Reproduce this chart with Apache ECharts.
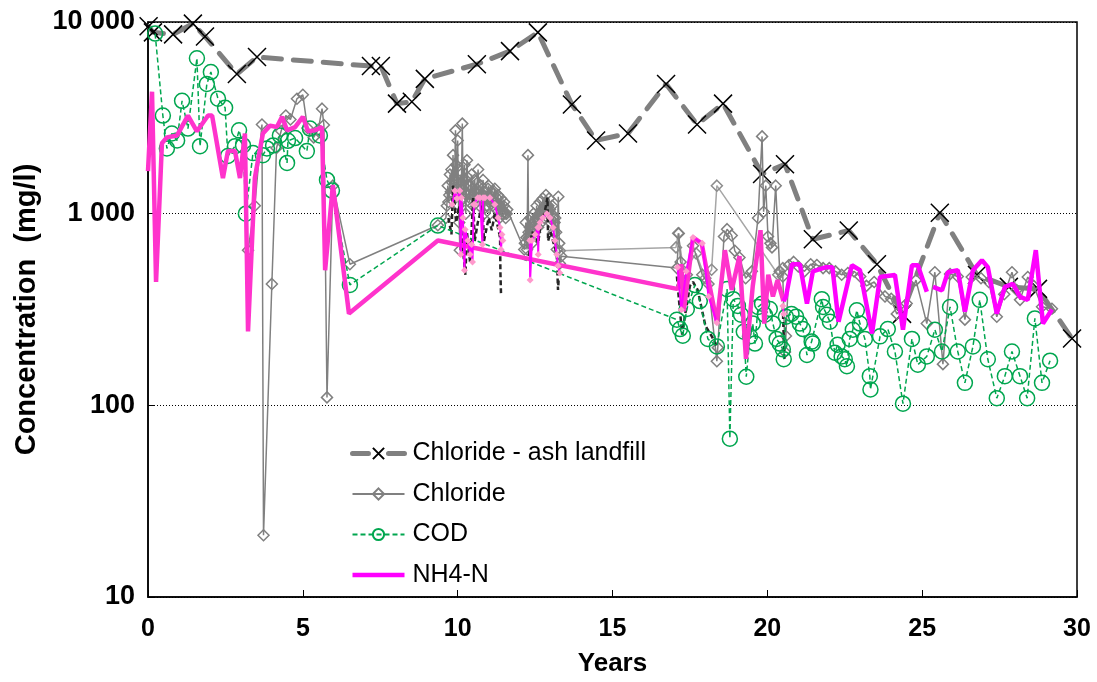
<!DOCTYPE html>
<html>
<head>
<meta charset="utf-8">
<script src="https://cdn.jsdelivr.net/npm/echarts@6/dist/echarts.min.js"></script>
<style>html,body{margin:0;padding:0;background:#fff}#c{width:1097px;height:682px}</style>
</head>
<body>
<div id="c"></div>
<script>
// ---- data: [years, mg/l] ----
const xTicks = [0, 5, 10, 15, 20, 25, 30];
const yTicks = [10, 100, 1000, 10000];

const ashLandfill = [[0.02,9500],[0.16,8830],[0.81,8620],[1.45,9810],[1.84,8410],[2.87,5350],[3.52,6560],[7.2,5890],[7.52,5890],[8.04,3750],[8.52,3840],[8.94,5050],[10.62,6020],[11.69,7050],[12.59,8830],[13.69,3710],[14.47,2410],[15.5,2620],[16.73,4750],[17.73,2920],[18.57,3750],[19.83,1610],[20.57,1810],[21.47,735],[22.63,817],[23.54,545],[24.35,300],[25.57,1010],[26.77,479],[27.8,415],[28.74,405],[29.84,223]];

const chlorideEarly = [[3.23,645],[3.45,1100],[3.68,2920],[3.73,21],[4.0,430],[4.15,2200],[4.3,2700],[4.45,3250],[4.6,3100],[4.81,3980],[5.0,4170],[5.15,2800],[5.35,2500],[5.5,2750],[5.62,3530],[5.68,2900],[5.78,110],[5.97,1400],[6.52,545],[9.36,870]];
const chlorideCluster1 = [[9.62,950],[9.65,1100],[9.68,1400],[9.7,1150],[9.73,1250],[9.75,1600],[9.78,1300],[9.8,1700],[9.83,1450],[9.85,2020],[9.88,1250],[9.9,1500],[9.93,2720],[9.95,1800],[9.96,1300],[10.0,2410],[10.02,1500],[10.03,1100],[10.05,900],[10.07,645],[10.1,1600],[10.12,1350],[10.15,2950],[10.17,1500],[10.18,1200],[10.2,1400],[10.22,1800],[10.24,1300],[10.26,1000],[10.28,1250],[10.3,1900],[10.32,1550],[10.35,1400],[10.38,1150],[10.4,1200],[10.42,1400],[10.45,1600],[10.48,1250],[10.5,1100],[10.53,1300],[10.55,1500],[10.58,1200],[10.6,1300],[10.63,1450],[10.66,1700],[10.68,1300],[10.7,1100],[10.73,1250],[10.75,1400],[10.78,1200],[10.82,1500],[10.84,1250],[10.86,1000],[10.88,1200],[10.9,1300],[10.93,1100],[10.95,1200],[10.98,1350],[11.0,1400],[11.03,1150],[11.05,1000],[11.08,1200],[11.1,1300],[11.13,1100],[11.15,1150],[11.18,1300],[11.2,1350],[11.23,1150],[11.25,1050],[11.28,1200],[11.3,1250],[11.33,1100],[11.35,950],[11.38,1100],[11.4,1200],[11.43,1050],[11.45,1000],[11.48,1100],[11.5,1150],[11.53,1000],[11.55,950],[11.58,1000],[11.6,1050]];
const chlorideCluster2 = [[12.15,650],[12.17,700],[12.2,900],[12.22,750],[12.24,650],[12.27,2020],[12.29,800],[12.3,750],[12.33,850],[12.35,950],[12.38,800],[12.4,700],[12.43,850],[12.45,1000],[12.48,900],[12.5,800],[12.53,950],[12.55,1100],[12.58,950],[12.6,850],[12.63,1000],[12.65,1150],[12.68,1000],[12.7,900],[12.73,1050],[12.75,1200],[12.78,1050],[12.8,950],[12.83,1100],[12.85,1250],[12.88,1100],[12.9,1000],[12.93,1100],[12.95,1200],[12.98,1050],[13.0,900],[13.03,1000],[13.05,1100],[13.08,950],[13.1,800],[13.13,900],[13.15,950],[13.18,800],[13.2,650],[13.25,1225],[13.28,700],[13.3,550],[13.35,600]];
const chlorideLate = [[17.08,520],[17.14,789],[17.2,560],[17.4,480],[17.6,680],[17.9,480],[18.1,430],[18.37,170],[18.4,200],[18.6,760],[18.7,830],[18.85,770],[18.95,640],[19.1,590],[19.3,460],[19.5,500],[19.7,950],[19.83,2530],[19.88,1023],[19.95,1400],[20.02,760],[20.1,700],[20.15,667],[20.27,1400],[20.4,500],[20.5,470],[20.57,190],[20.6,230],[20.7,540],[20.85,560],[21.0,530],[21.2,500],[21.4,545],[21.6,540],[21.8,520],[22.0,520],[22.2,500],[22.4,480],[22.6,490],[22.8,500],[23.0,470],[23.2,420],[23.45,440],[23.8,370],[24.0,360],[24.18,300],[24.5,340],[24.8,450],[25.15,267],[25.41,495],[25.67,164],[25.9,484],[26.15,470],[26.38,280],[26.6,467],[26.9,460],[27.15,440],[27.41,290],[27.65,380],[27.9,495],[28.05,400],[28.16,355],[28.41,467],[28.6,420],[28.87,327],[29.19,319]];
const chlorideOther = [[13.3,640],[17.05,667],[17.12,790],[17.3,500],[17.7,620],[18.0,460],[18.2,510],[18.37,1400],[20.35,480],[20.5,520]];

const cod = [[0.23,8700],[0.48,3250],[0.61,2190],[0.77,2620],[0.94,2410],[1.1,3880],[1.29,2780],[1.58,6470],[1.68,2250],[1.9,4750],[2.03,5480],[2.26,3980],[2.49,3570],[2.58,2000],[2.81,2250],[2.94,2720],[3.07,2270],[3.16,1000],[3.39,2070],[3.71,2020],[3.84,2190],[4.04,2270],[4.26,2560],[4.49,1840],[4.52,2400],[4.75,2480],[5.13,2120],[5.23,2780],[5.55,2560],[5.78,1500],[5.94,1320],[6.52,425],[9.36,867],[17.08,280],[17.18,250],[17.27,231],[17.4,318],[17.66,424],[17.82,350],[18.08,222],[18.37,203],[18.7,404],[18.79,67],[18.9,358],[19.05,330],[19.15,297],[19.24,242],[19.32,141],[19.44,229],[19.53,267],[19.6,210],[19.7,326],[19.83,339],[19.92,297],[20.08,318],[20.18,267],[20.3,222],[20.4,210],[20.5,196],[20.53,174],[20.6,290],[20.78,300],[20.93,290],[21.05,267],[21.15,250],[21.28,183],[21.43,215],[21.47,210],[21.76,358],[21.8,326],[21.92,297],[22.02,273],[22.18,188],[22.27,207],[22.4,180],[22.5,174],[22.57,160],[22.66,222],[22.76,248],[22.89,313],[22.99,267],[23.15,222],[23.31,142],[23.33,121],[23.64,229],[23.89,250],[24.12,191],[24.38,102],[24.67,222],[24.86,163],[25.15,180],[25.41,248],[25.64,191],[25.9,326],[26.15,191],[26.38,131],[26.64,203],[26.86,355],[27.12,174],[27.41,109],[27.67,142],[27.9,191],[28.16,142],[28.39,109],[28.64,284],[28.87,131],[29.13,171]];

const nh4Early = [[0.0,1667],[0.13,4330],[0.26,440],[0.45,2330],[0.61,2500],[0.94,2560],[1.29,3250],[1.58,2690],[1.94,3250],[2.07,3250],[2.42,1535],[2.58,2120],[2.81,2120],[2.97,1535],[3.13,2620],[3.23,243],[3.45,1535],[3.71,2620],[3.94,2880],[4.16,2830],[4.33,3200],[4.49,2720],[4.75,2830],[5.0,3200],[5.17,2690],[5.39,2720],[5.62,2830],[5.72,507],[5.97,1410],[6.49,301],[9.36,725],[17.08,405],[17.14,415],[17.22,545],[17.3,310],[17.6,752],[17.88,700],[18.1,450],[18.37,270],[18.63,645],[18.85,400],[19.1,600],[19.31,175],[19.53,420],[19.78,820],[19.9,267],[20.03,480],[20.18,370],[20.33,450],[20.52,350]];
const nh4Late = [[20.52,350],[20.6,368],[20.8,545],[21.05,545],[21.28,339],[21.47,500],[21.9,526],[22.1,526],[22.3,273],[22.73,538],[22.99,507],[23.38,237],[23.64,467],[24.12,479],[24.38,248],[24.67,538],[24.86,538],[25.15,391],[25.25,'-'],[25.35,415],[25.64,398],[25.83,495],[26.15,507],[26.38,308],[26.64,507],[26.93,571],[27.12,526],[27.41,301],[27.67,415],[27.93,430],[28.16,368],[28.41,355],[28.67,645],[28.9,267],[29.19,316]];

const nh4Detail = [[9.82,1115],[9.91,1315],[9.98,1200],[10.07,1315],[10.1,613],[10.12,1210],[10.17,953],[10.22,507],[10.24,827],[10.33,725],[10.4,613],[10.45,690],[10.48,560],[10.52,1115],[10.56,1115],[10.65,1210],[10.72,1210],[10.8,690],[10.82,1210],[10.88,1210],[11.04,1210],[11.2,1115],[11.3,953],[11.37,847],[11.4,650],[11.43,778],[11.46,725],[12.0,'-'],[12.33,725],[12.34,451],[12.4,725],[12.5,778],[12.59,847],[12.6,613],[12.62,847],[12.66,900],[12.75,953],[12.88,1000],[12.98,953],[13.08,847],[13.14,725],[13.2,613],[13.24,535],[13.3,490],[15.0,'-'],[17.1,526],[17.22,315],[17.38,500],[17.6,752],[17.9,700],[18.1,370],[18.37,270],[19.5,'-'],[20.5,330],[20.53,300]];
const chlorideDetail = [[9.7,950],[9.8,780],[9.85,1400],[9.95,900],[10.05,1100],[10.15,700],[10.25,480],[10.3,800],[10.4,560],[10.5,1210],[10.55,720],[10.65,900],[10.8,1100],[10.85,720],[11.0,950],[11.1,820],[11.2,1000],[11.3,850],[11.37,750],[11.38,500],[11.4,381],[12.0,'-'],[12.3,600],[12.4,800],[12.5,780],[12.6,700],[12.7,950],[12.8,1000],[12.9,1210],[12.92,720],[13.0,800],[13.1,700],[13.2,620],[13.24,400],[13.26,450],[15.0,'-'],[17.08,470],[17.15,350],[17.25,234],[17.35,300],[17.5,420],[17.6,440],[17.75,400],[18.0,260],[18.2,230],[18.37,203],[19.5,'-'],[20.5,330],[20.55,170]];

const chloride = chlorideEarly.concat(chlorideCluster1, chlorideCluster2, chlorideLate);

const FONT = 'Liberation Sans, Arial, sans-serif';
const chart = echarts.init(document.getElementById('c'), null, {renderer: 'canvas'});
const xMark = 'path://M0,0L10,10M10,0L0,10';
const barIcon = 'path://M0,0L0.01,0Z M0,14L0.01,14Z M0,4.8L52,4.8L52,9.2L0,9.2Z';

chart.setOption({
  backgroundColor: '#fff',
  animation: false,
  grid: {left: 148, right: 20, top: 22, bottom: 79, show: true, borderColor: '#000', borderWidth: 1.5, backgroundColor: 'transparent'},
  legend: {
    data: [
      {name: 'Chloride - ash landfill', lineStyle: {width: 5, color: '#808080', type: [16, 20], cap: 'round'}},
      {name: 'Chloride'},
      {name: 'COD'},
      {name: 'NH4-N', icon: barIcon, itemStyle: {color: '#ff00ff'}}
    ],
    orient: 'vertical', left: 350, top: 441, padding: 0,
    itemWidth: 52, itemHeight: 14, itemGap: 15.5,
    textStyle: {fontSize: 25, color: '#000', fontFamily: FONT, lineHeight: 24, padding: [0, 0, 0, 3]}
  },
  xAxis: {
    type: 'value', min: xTicks[0], max: xTicks[xTicks.length - 1], interval: 5,
    name: 'Years', nameLocation: 'middle', nameGap: 54,
    nameTextStyle: {fontSize: 26, fontWeight: 'bold', color: '#000', fontFamily: FONT},
    axisLine: {lineStyle: {color: '#000', width: 1.5}},
    axisTick: {inside: true, length: 7, lineStyle: {color: '#000'}},
    axisLabel: {fontSize: 25, fontWeight: 'bold', color: '#000', fontFamily: FONT, margin: 20},
    splitLine: {show: false}
  },
  yAxis: {
    type: 'log', logBase: 10, min: yTicks[0], max: yTicks[yTicks.length - 1],
    name: 'Concentration  (mg/l)', nameLocation: 'middle', nameGap: 107,
    nameTextStyle: {fontSize: 29, fontWeight: 'bold', color: '#000', fontFamily: FONT},
    axisLine: {lineStyle: {color: '#000', width: 1.5}},
    axisTick: {inside: true, length: 6, lineStyle: {color: '#000'}},
    axisLabel: {fontSize: 27, fontWeight: 'bold', color: '#000', fontFamily: FONT, margin: 13,
      formatter: v => String(Math.round(v)).replace(/\B(?=(\d{3})+(?!\d))/g, ' ')},
    splitLine: {show: true, lineStyle: {color: '#000', type: [1, 2], width: 1}}
  },
  series: [
    {name: 'Chloride - ash landfill', type: 'line', data: ashLandfill, z: 2,
     symbol: xMark, symbolSize: 18,
     itemStyle: {color: 'rgba(0,0,0,0)', borderColor: '#000', borderWidth: 1.5},
     lineStyle: {color: '#808080', width: 5, type: [18, 12], cap: 'round'}},
    {name: 'Chloride2', type: 'line', data: chlorideOther, z: 3,
     symbol: 'diamond', symbolSize: 11,
     itemStyle: {color: 'rgba(255,255,255,0)', borderColor: '#8c8c8c', borderWidth: 1.5},
     lineStyle: {color: '#a6a6a6', width: 1.5}},
    {name: 'Chloride', type: 'line', data: chloride, z: 3,
     symbol: 'diamond', symbolSize: 11,
     itemStyle: {color: 'rgba(255,255,255,0)', borderColor: '#808080', borderWidth: 1.5},
     lineStyle: {color: '#808080', width: 1.5}},
    {name: 'Chloride detail', type: 'line', data: chlorideDetail, z: 4,
     showSymbol: false, symbol: 'none',
     lineStyle: {color: '#262626', width: 2.5, type: [5, 3]}},
    {name: 'COD', type: 'line', data: cod, z: 5,
     symbol: 'circle', symbolSize: 15,
     itemStyle: {color: 'rgba(255,255,255,0)', borderColor: '#00a64f', borderWidth: 1.5},
     lineStyle: {color: '#00a64f', width: 1.5, type: [5, 3]}},
    {name: 'NH4-N early', type: 'line', data: nh4Early, z: 6,
     symbol: 'none', lineStyle: {color: '#ff33cc', width: 4.5}},
    {name: 'NH4-N detail', type: 'line', data: nh4Detail, z: 7,
     symbol: 'diamond', symbolSize: 7,
     itemStyle: {color: '#ff99cc', borderColor: '#ff99cc', borderWidth: 0},
     lineStyle: {color: '#ff00ff', width: 2}},
    {name: 'NH4-N', type: 'line', data: nh4Late, z: 6,
     symbol: 'none', itemStyle: {color: '#ff00ff'},
     lineStyle: {color: '#ff00ff', width: 4.5}}
  ]
});
</script>
</body>
</html>
